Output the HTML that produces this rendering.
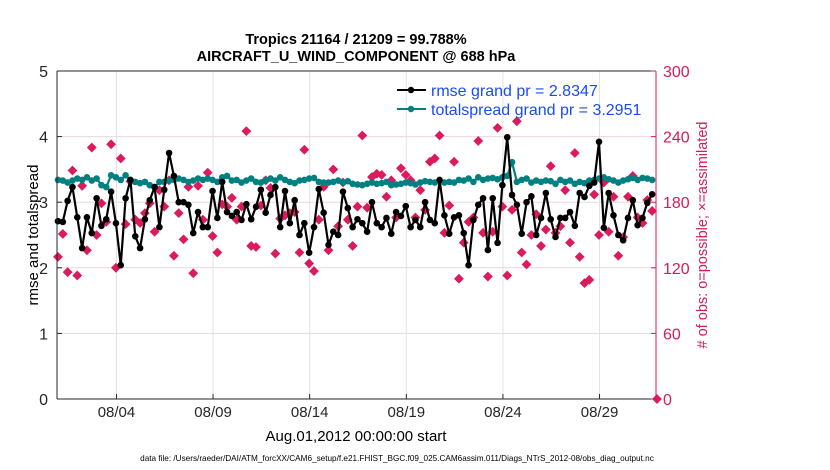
<!DOCTYPE html>
<html><head><meta charset="utf-8"><style>
body{margin:0;background:#fff;}
svg{display:block;font-family:"Liberation Sans",sans-serif;}
</style></head><body>
<svg id="chart" width="830" height="470">
<g id="grid"></g>
<g id="series"></g>
<g id="axes"></g>
<text x="356" y="44" text-anchor="middle" font-size="14.5" font-weight="bold">Tropics 21164 / 21209 = 99.788%</text>
<text x="356" y="61" text-anchor="middle" font-size="14.5" font-weight="bold">AIRCRAFT_U_WIND_COMPONENT @ 688 hPa</text>
<text transform="translate(38,235) rotate(-90)" text-anchor="middle" font-size="15">rmse and totalspread</text>
<text transform="translate(707,235) rotate(-90)" text-anchor="middle" font-size="14.5" fill="#d81b5c"># of obs: o=possible; ×=assimilated</text>
<text x="356" y="441" text-anchor="middle" font-size="15">Aug.01,2012 00:00:00 start</text>
<text x="397" y="461" text-anchor="middle" font-size="8.2">data file: /Users/raeder/DAI/ATM_forcXX/CAM6_setup/f.e21.FHIST_BGC.f09_025.CAM6assim.011/Diags_NTrS_2012-08/obs_diag_output.nc</text>
<g>
<g>
<line x1="397" y1="90" x2="426" y2="90" stroke="#000" stroke-width="2"/><circle cx="411" cy="90" r="3.2" fill="#000"/>
<text x="431" y="96" font-size="16" fill="#1a4cf0">rmse grand pr = 2.8347</text></g>
<g>
<line x1="397" y1="109" x2="426" y2="109" stroke="#008080" stroke-width="2"/><circle cx="411" cy="109" r="3.2" fill="#008080"/>
<text x="431" y="115" font-size="16" fill="#1a4cf0">totalspread grand pr = 3.2951</text></g>
</g>
</svg>
<script>
const rmse=[2.71,2.70,3.02,3.23,2.77,2.30,2.77,2.53,3.06,2.64,2.74,3.16,2.68,2.04,3.06,3.34,2.48,2.30,2.74,3.03,3.23,2.62,3.19,3.75,3.40,3.00,3.00,2.96,2.53,2.85,2.62,
2.62,3.17,2.76,3.31,2.85,2.79,2.85,2.73,2.97,2.74,2.93,3.19,2.84,3.11,3.23,2.62,3.17,2.68,3.03,2.50,2.68,2.23,2.62,3.20,2.84,2.35,2.55,2.50,3.16,2.91,
2.62,2.74,2.68,2.55,3.00,2.68,2.62,2.76,2.52,2.85,2.79,2.94,2.62,2.73,2.62,3.00,2.73,2.68,3.34,2.80,2.52,2.77,2.80,2.53,2.04,2.73,2.96,3.06,2.27,3.06,
2.38,3.26,3.99,3.11,2.96,2.52,3.00,3.09,2.50,2.76,3.14,2.74,2.47,2.76,2.76,2.85,2.64,3.14,3.08,3.25,3.30,3.92,2.61,3.14,2.80,2.50,2.42,2.76,3.03,2.65,2.76,2.99,3.12];
const spread=[3.34,3.33,3.30,3.33,3.36,3.34,3.38,3.33,3.36,3.26,3.23,3.41,3.38,3.34,3.41,3.34,3.31,3.29,3.31,3.26,3.23,3.31,3.31,3.33,3.34,3.36,3.34,3.31,3.33,3.36,3.34,
3.36,3.34,3.31,3.38,3.40,3.33,3.34,3.30,3.33,3.36,3.31,3.30,3.34,3.36,3.33,3.38,3.34,3.31,3.29,3.33,3.34,3.36,3.37,3.31,3.30,3.30,3.31,3.33,3.30,3.32,
3.28,3.27,3.26,3.28,3.30,3.28,3.29,3.31,3.26,3.27,3.28,3.30,3.29,3.27,3.30,3.32,3.31,3.30,3.33,3.30,3.31,3.30,3.34,3.33,3.36,3.31,3.38,3.34,3.36,3.37,
3.35,3.38,3.40,3.61,3.31,3.34,3.36,3.30,3.33,3.31,3.33,3.32,3.28,3.34,3.31,3.33,3.28,3.31,3.29,3.33,3.34,3.36,3.38,3.35,3.33,3.30,3.33,3.35,3.37,3.34,3.37,3.36,3.34];
const nobs=[130,151,116,209,113,195,136,230,150,179,162,233,120,220,160,199,164,161,170,179,153,191,176,200,131,170,146,194,115,195,164,
207,149,134,178,176,184,164,176,245,140,139,177,200,193,133,165,168,170,171,134,228,124,117,164,194,136,210,158,198,164,
140,176,241,175,203,206,205,185,200,166,211,205,200,166,191,173,217,220,241,152,177,217,110,143,162,166,236,152,112,153,
248,176,113,173,254,134,123,150,169,140,155,213,152,158,191,143,225,130,106,109,187,150,198,153,185,131,148,185,204,166,161,182,172,0];
const leftTicks=[0,1,2,3,4,5];
const rightTicks=[0,60,120,180,240,300];
const dateTicks=[3,8,13,18,23,28];
const dateLabels=["08/04","08/09","08/14","08/19","08/24","08/29"];

const NS="http://www.w3.org/2000/svg";
const X0=57,X1=656,Y0=399,Y1=71;
const xDay=d=>X0+(d/31)*(X1-X0);
const xIdx=i=>xDay(i*0.25+0.05);
const yL=v=>Y0-(v/5)*(Y0-Y1);
const yR=v=>Y0-(v/300)*(Y0-Y1);
function mk(tag,attrs,parent){const e=document.createElementNS(NS,tag);for(const k in attrs)e.setAttribute(k,attrs[k]);parent.appendChild(e);return e;}
const grid=document.getElementById('grid'),axes=document.getElementById('axes'),ser=document.getElementById('series');
leftTicks.forEach(t=>{if(t===0||t===5)return;const l=mk('line',{x1:X0,x2:X1,y1:yL(t),y2:yL(t),stroke:'#ecd6e0','stroke-width':1},grid);

});
dateTicks.forEach(d=>{const l=mk('line',{x1:xDay(d)+1.5,x2:xDay(d)+1.5,y1:Y1,y2:Y0,stroke:'#e2e2e2','stroke-width':1},grid);

});
mk('line',{x1:X0,x2:X0,y1:Y1,y2:Y0,stroke:'#262626','stroke-width':1},axes);
mk('line',{x1:X0,x2:X1,y1:Y0,y2:Y0,stroke:'#262626','stroke-width':1},axes);
mk('line',{x1:X0,x2:X1,y1:Y1,y2:Y1,stroke:'#262626','stroke-width':1},axes);
mk('line',{x1:X1,x2:X1,y1:Y1,y2:Y0,stroke:'#d81b5c','stroke-width':1},axes);
leftTicks.forEach(t=>{mk('line',{x1:X0,x2:X0+5,y1:yL(t),y2:yL(t),stroke:'#262626'},axes);
const tx=mk('text',{x:X0-9,y:yL(t)+6,'text-anchor':'end','font-size':16,fill:'#262626'},axes);tx.textContent=t;

});
rightTicks.forEach(t=>{mk('line',{x1:X1-5,x2:X1,y1:yR(t),y2:yR(t),stroke:'#d81b5c'},axes);
const tx=mk('text',{x:X1+7,y:yR(t)+6,'font-size':16,fill:'#d81b5c'},axes);tx.textContent=t;

});
dateTicks.forEach((d,k)=>{mk('line',{x1:xDay(d)+1.5,x2:xDay(d)+1.5,y1:Y0-5,y2:Y0,stroke:'#262626'},axes);
const tx=mk('text',{x:xDay(d)+1.5,y:Y0+18,'text-anchor':'middle','font-size':15,fill:'#262626'},axes);tx.textContent=dateLabels[k];

});
nobs.forEach((v,i)=>{const x=xIdx(i),y=yR(v),s=4.2;
const p=mk('path',{d:`M${x} ${y-s}L${x+s} ${y}L${x} ${y+s}L${x-s} ${y}Z`,fill:'#dc1a5c',stroke:'#dc1a5c','stroke-width':1},ser);

});
function line(arr,color,name){
const pl=mk('polyline',{points:arr.map((v,i)=>xIdx(i)+','+yL(v)).join(' '),fill:'none',stroke:color,'stroke-width':2.2,'stroke-linejoin':'round'},ser);


arr.forEach((v,i)=>{const c=mk('circle',{cx:xIdx(i),cy:yL(v),r:3.3,fill:color},ser);

});}
line(spread,'#008080','totalspread');
line(rmse,'#000000','rmse');
</script>
</body></html>
